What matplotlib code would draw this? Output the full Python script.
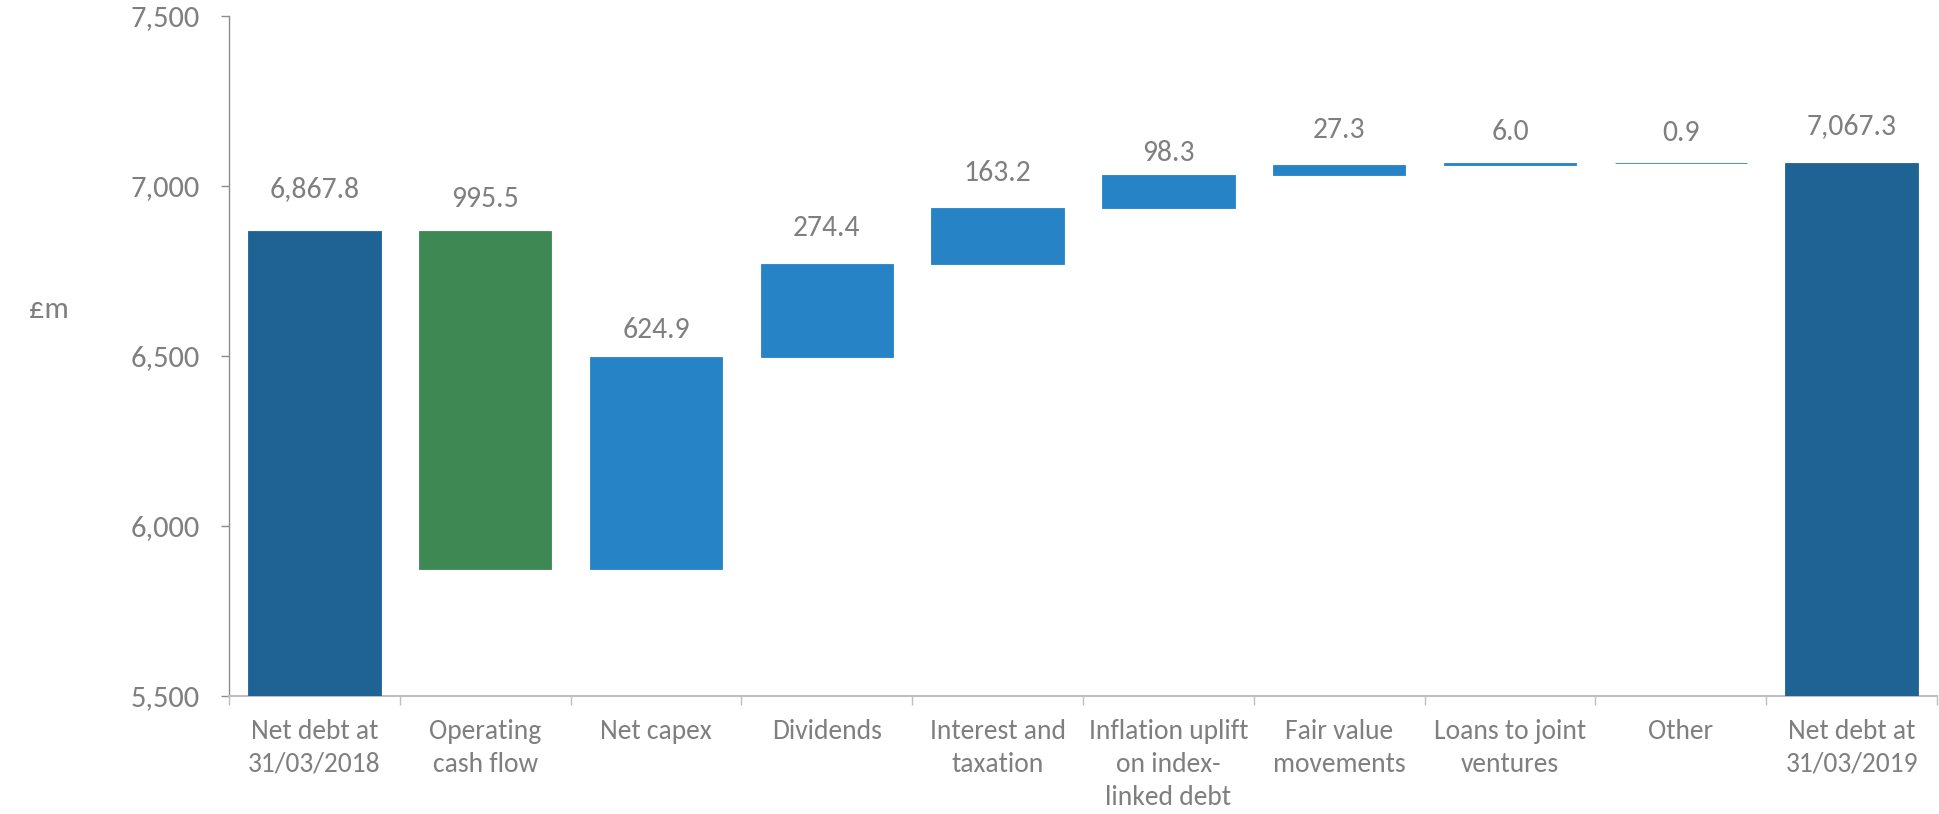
import matplotlib
matplotlib.use("Agg")
import matplotlib.pyplot as plt
import numpy as np
from matplotlib.ticker import FuncFormatter, FixedLocator

# Net debt bridge, £m
categories = [
    "Net debt at\n31/03/2018",
    "Operating\ncash flow",
    "Net capex",
    "Dividends",
    "Interest and\ntaxation",
    "Inflation uplift\non index-\nlinked debt",
    "Fair value\nmovements",
    "Loans to joint\nventures",
    "Other",
    "Net debt at\n31/03/2019",
]
opening_debt = 6867.8
movements = [-995.5, 624.9, 274.4, 163.2, 98.3, 27.3, 6.0, 0.9]
closing_debt = 7067.3
y_ticks = [5500, 6000, 6500, 7000, 7500]

# Colours
TOTAL_COLOR = "#1F6395"
DECREASE_COLOR = "#3E8953"
INCREASE_COLOR = "#2683C6"
TEXT_COLOR = "#7F7F7F"

plt.rcParams["font.family"] = ["Carlito", "Lato", "DejaVu Sans"]

fig = plt.figure(figsize=(19.39, 8.14), dpi=100)
ax = fig.add_axes([229 / 1939, 1 - 696 / 814, (1937 - 229) / 1939, (696 - 16) / 814])

y_min, y_max = y_ticks[0], y_ticks[-1]

# Build the waterfall from the running total
bottoms, heights, colors, label_vals = [], [], [], []
bottoms.append(y_min)
heights.append(opening_debt - y_min)
colors.append(TOTAL_COLOR)
label_vals.append(opening_debt)
level = opening_debt
for m in movements:
    new_level = level + m
    bottoms.append(min(level, new_level))
    heights.append(abs(m))
    colors.append(DECREASE_COLOR if m < 0 else INCREASE_COLOR)
    label_vals.append(abs(m))
    level = new_level
bottoms.append(y_min)
heights.append(closing_debt - y_min)
colors.append(TOTAL_COLOR)
label_vals.append(closing_debt)

x = np.arange(len(categories))
bars = ax.bar(x, heights, bottom=bottoms, width=0.775, color=colors,
              edgecolor=colors, linewidth=0.6, zorder=3)

# Value labels above each bar (pixel offsets above bar top)
label_offsets_px = [42, 32, 27, 36, 35, 22, 35, 31, 30, 37]
for xi, b, h, v, off in zip(x, bottoms, heights, label_vals, label_offsets_px):
    ax.annotate(f"{v:,.1f}", xy=(xi, b + h), xytext=(0, off * 0.72),
                textcoords="offset points", ha="center", va="center",
                fontsize=21.3, color=TEXT_COLOR)

ax.set_xlim(-0.5, len(categories) - 0.5)
ax.set_ylim(y_min, y_max)

# Y axis
ax.yaxis.set_major_locator(FixedLocator(y_ticks))
ax.yaxis.set_major_formatter(FuncFormatter(lambda v, p: f"{v:,.0f}"))
ax.tick_params(axis="y", direction="out", length=5.8, width=1.0,
               color="#8C8C8C", pad=15, labelsize=22, labelcolor=TEXT_COLOR)

# X axis: labels at centres, tick marks at category boundaries
ax.set_xticks(x)
ax.set_xticklabels(categories, linespacing=1.39)
ax.set_xticks(np.arange(-0.5, len(categories)), minor=True)
ax.tick_params(axis="x", which="major", length=0, pad=16.5,
               labelsize=19.8, labelcolor=TEXT_COLOR)
ax.tick_params(axis="x", which="minor", direction="out", length=6.5,
               width=1.0, color="#BFBFBF")

for side in ("top", "right"):
    ax.spines[side].set_visible(False)
ax.spines["left"].set_color("#8C8C8C")
ax.spines["left"].set_linewidth(1.0)
ax.spines["bottom"].set_color("#BFBFBF")
ax.spines["bottom"].set_linewidth(1.5)

fig.text(49 / 1939, 1 - 310 / 814, "£m", ha="center", va="center",
         fontsize=22, color=TEXT_COLOR)

fig.savefig("out.png", dpi=100, facecolor="white")
